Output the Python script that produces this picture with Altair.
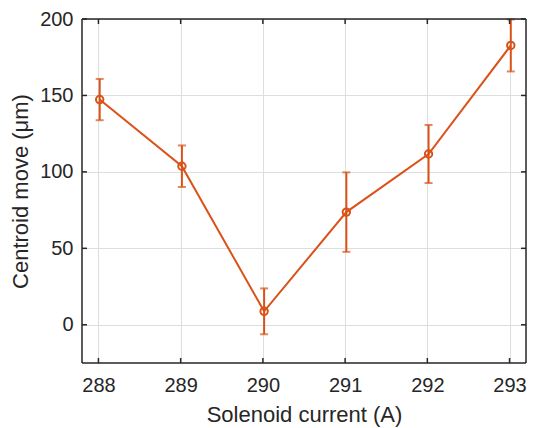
import altair as alt
import pandas as pd

current = [288.015, 289.015, 290.015, 291.015, 292.015, 293.015]
move = [147.3, 103.7, 8.8, 73.7, 111.7, 182.7]
err = [13.5, 13.6, 15.0, 26.0, 19.0, 17.0]
x_ticks = [288, 289, 290, 291, 292, 293]
y_ticks = [0, 50, 100, 150, 200]

df = pd.DataFrame({"current": current, "move": move, "err": err})
df["lo"] = df["move"] - df["err"]
df["hi"] = df["move"] + df["err"]

W, H = 444, 344
COLOR = "#D95319"
AX = "#262626"
FONT = "Liberation Sans"

xs = alt.Scale(domain=[287.8, 293.2], nice=False, zero=False)
ys = alt.Scale(domain=[-25, 200], nice=False, zero=False)

x_axis = alt.Axis(values=x_ticks, tickSize=0, domain=False, grid=True,
                  gridColor="#dedede", gridWidth=1, labelFontSize=20,
                  labelPadding=12, labelColor=AX, labelFont=FONT,
                  title="Solenoid current (A)", titleFontSize=22,
                  titleFontWeight="normal", titleColor=AX, titleFont=FONT,
                  titlePadding=9, format="d")
y_axis = alt.Axis(values=y_ticks, tickSize=0, domain=False, grid=True,
                  gridColor="#dedede", gridWidth=1, labelFontSize=20,
                  labelPadding=9, labelColor=AX, labelFont=FONT,
                  title="Centroid move (μm)", titleFontSize=22,
                  titleFontWeight="normal", titleColor=AX, titleFont=FONT,
                  titlePadding=7)

base = alt.Chart(df)

line = base.mark_line(color=COLOR, strokeWidth=2).encode(
    x=alt.X("current:Q", scale=xs, axis=x_axis),
    y=alt.Y("move:Q", scale=ys, axis=y_axis),
)
pts = base.mark_point(color=COLOR, size=55, strokeWidth=2, filled=False, opacity=1).encode(
    x=alt.X("current:Q", scale=xs), y=alt.Y("move:Q", scale=ys))
bars = base.mark_rule(color=COLOR, strokeWidth=2).encode(
    x=alt.X("current:Q", scale=xs), y=alt.Y("lo:Q", scale=ys), y2="hi:Q")
cap_lo = base.mark_tick(color=COLOR, thickness=2, size=8, orient="horizontal").encode(
    x=alt.X("current:Q", scale=xs), y=alt.Y("lo:Q", scale=ys))
cap_hi = base.mark_tick(color=COLOR, thickness=2, size=8, orient="horizontal").encode(
    x=alt.X("current:Q", scale=xs), y=alt.Y("hi:Q", scale=ys))

xt = pd.DataFrame({"t": x_ticks})
yt = pd.DataFrame({"t": y_ticks})
xtick_b = alt.Chart(xt).mark_rule(color=AX, strokeWidth=1.5).encode(
    x=alt.X("t:Q", scale=xs), y=alt.value(H - 5), y2=alt.value(H))
xtick_t = alt.Chart(xt).mark_rule(color=AX, strokeWidth=1.5).encode(
    x=alt.X("t:Q", scale=xs), y=alt.value(0), y2=alt.value(5))
ytick_l = alt.Chart(yt).mark_rule(color=AX, strokeWidth=1.5).encode(
    y=alt.Y("t:Q", scale=ys), x=alt.value(0), x2=alt.value(5))
ytick_r = alt.Chart(yt).mark_rule(color=AX, strokeWidth=1.5).encode(
    y=alt.Y("t:Q", scale=ys), x=alt.value(W - 5), x2=alt.value(W))

one = pd.DataFrame({"a": [0]})
fr = alt.Chart(one).mark_rule(color=AX, strokeWidth=1.5)
frame_l = fr.encode(x=alt.value(0), y=alt.value(0), y2=alt.value(H))
frame_r = fr.encode(x=alt.value(W), y=alt.value(0), y2=alt.value(H))
frame_t = fr.encode(y=alt.value(0), x=alt.value(0), x2=alt.value(W))
frame_b = fr.encode(y=alt.value(H), x=alt.value(0), x2=alt.value(W))

chart = alt.layer(line, bars, cap_lo, cap_hi, pts,
                  xtick_b, xtick_t, ytick_l, ytick_r,
                  frame_l, frame_r, frame_t, frame_b).properties(
    width=W, height=H,
    background="white",
    autosize=alt.AutoSizeParams(type="none"),
    padding={"left": 74, "top": 11, "right": 1, "bottom": 64},
).configure_view(stroke=None)

chart.save("out.html", embed_options={"renderer": "svg", "actions": False})
